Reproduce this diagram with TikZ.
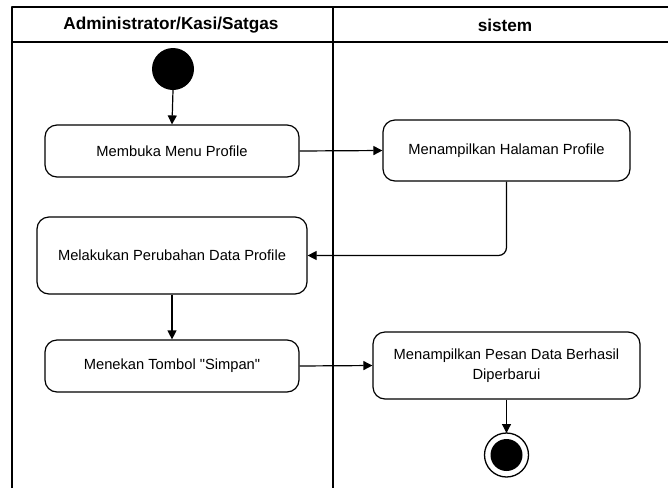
\documentclass[tikz,border=0pt]{standalone}
\usepackage{fontspec}
\setmainfont{Liberation Sans}[Ligatures=TeXOff]
\usepackage{tikz}
\usetikzlibrary{arrows.meta}
\usetikzlibrary{calc}
\tikzset{act/.style={draw,line width=1.2pt,rounded corners=12pt,align=center,font=\fontsize{14.7}{20}\selectfont}}
\tikzset{lane/.style={font=\bfseries\fontsize{17.2}{17}\selectfont}}
\tikzset{flow/.style={line width=1.2pt,-{Triangle[length=9pt,width=9pt]}}}

\begin{document}
\begin{tikzpicture}[x=1pt,y=-1pt,line join=round]
            \useasboundingbox (0,0) rectangle (668,488);
            % swimlanes
            \draw[line width=1.4pt] (12,488)--(12,7)--(668,7);
            \draw[line width=1.4pt] (12,42)--(668,42);
            \draw[line width=1.2pt] (333,7)--(333,488);
            \node[lane] (laneA) at (171,25.5) {Administrator/Kasi/Satgas};
            \node[lane] (laneB) at (505,25.5) {sistem};
            % activities
            \fill (173,69) circle (21) coordinate (start);
            \node[act,minimum width=254pt,minimum height=52pt] (buka) at (172,151) {Membuka Menu Profile};
            \node[act,minimum width=247pt,minimum height=61pt] (tampil) at (506.5,150.5) {Menampilkan Halaman Profile};
            \node[act,minimum width=270pt,minimum height=77pt] (ubah) at (172,255.5) {Melakukan Perubahan Data Profile};
            \node[act,minimum width=254pt,minimum height=52pt] (simpan) at (172,366) {Menekan Tombol "Simpan"};
            \node[act,minimum width=267pt,minimum height=67pt] (pesan) at (506.5,365.5) {Menampilkan Pesan Data Berhasil\\Diperbarui};
            \draw[line width=1.3pt] (506.5,455) circle (22);
            \fill (506.5,455) circle (16);
            \coordinate (akhir) at (506.5,433);
            % flows
            \draw[flow] ($(start)+(0,21)$)--(buka.north);
            \draw[flow] (buka.east)--(tampil.west);
            \draw[flow,rounded corners=8pt] (tampil.south)|-(ubah.east);
            \draw[flow] (ubah.south)--(simpan.north);
            \draw[flow] (simpan.east)--(pesan.west);
            \draw[flow] (pesan.south)--(akhir);
          \end{tikzpicture}
\end{document}
